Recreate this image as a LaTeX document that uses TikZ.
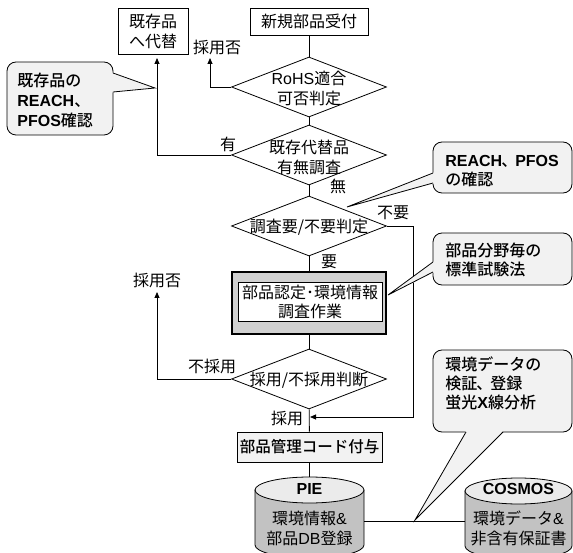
\documentclass[tikz,border=0pt]{standalone}
\usepackage{fontspec}
\setmainfont{Noto Sans CJK JP}[BoldFont={Noto Sans CJK JP Medium}]
\newfontfamily\lat{Liberation Sans}
\usetikzlibrary{shapes.geometric,arrows.meta}
\definecolor{calfill}{gray}{0.95}
\definecolor{cylbody}{gray}{0.76}
\definecolor{cyltop}{gray}{0.92}
\definecolor{boxgray}{gray}{0.82}
\definecolor{codefill}{gray}{0.95}
\tikzset{
  box/.style={draw, inner sep=0pt, align=center},
  dia/.style={draw, diamond, inner sep=0pt, minimum width=155pt, minimum height=60pt},
  lbl/.style={inner sep=0pt, align=center},
  callbox/.style={draw, rounded corners=9pt, fill=calfill, inner sep=0pt},
  calltext/.style={inner sep=0pt, align=left, anchor=west, font=\bfseries\fontsize{16}{19}\selectfont},
  cyl/.style={draw, fill=cylbody},
  cyltopstyle/.style={draw, fill=cyltop},
}
\begin{document}
\begin{tikzpicture}[x=1pt, y=-1pt, line width=0.8pt, font=\fontsize{16}{20}\selectfont,
  >={Triangle[length=6pt,width=5pt]}]
\useasboundingbox (0,0) rectangle (573,553);
\clip (0,0) rectangle (573,553);

% main boxes
\node[box, minimum width=70pt, minimum height=46pt] (alt) at (153,31) {既存品\\へ代替};
\node[box, minimum width=118pt, minimum height=27pt] (new) at (309,21.5) {新規部品受付};

\node[dia] (d1) at (309,87) {};
\node[lbl] (d1t) at (309,88) {{\lat RoHS}適合\\可否判定};
\node[dia] (d2) at (309,155) {};
\node[lbl] (d2t) at (309,157) {既存代替品\\有無調査};
\node[dia] (d3) at (309,226) {};
\node[lbl] (d3t) at (309,227) {調査要/不要判定};

% work box
\node[draw, line width=2.5pt, fill=boxgray, minimum width=154pt, minimum height=62pt, inner sep=0pt] (work) at (309,303) {};
\node[draw, line width=0.6pt, fill=white, minimum width=144pt, minimum height=39pt, inner sep=0pt, align=center, font=\fontsize{16}{19}\selectfont] (workt) at (310,301.5) {部品認定･環境情報\\調査作業};

\node[dia] (d4) at (309,379) {};
\node[lbl] (d4t) at (309,380) {採用/不採用判断};

\node[box, fill=codefill, minimum width=145pt, minimum height=30pt, font=\bfseries\fontsize{15.5}{19}\selectfont] (code) at (309.5,447) {部品管理コード付与};

% cylinders
\coordinate (pietop) at (309.5,477);
\coordinate (pieR) at (364,521);
\path[cyl] (255,490) -- (255,545) arc[start angle=180, end angle=360, x radius=54.5pt, y radius=13pt] -- (364,490) -- cycle;
\path[cyltopstyle] (309.5,490) ellipse[x radius=54.5pt, y radius=13pt];
\node[lbl, font=\lat\bfseries\fontsize{16}{20}\selectfont] (pie) at (309.5,489) {PIE};
\node[lbl] (piet) at (309.5,528) {環境情報{\lat\&}\\部品{\lat DB}登録};

\coordinate (cosL) at (465,521);
\path[cyl] (465,491) -- (465,546) arc[start angle=180, end angle=360, x radius=53.5pt, y radius=13pt] -- (572,491) -- cycle;
\path[cyltopstyle] (518.5,491) ellipse[x radius=53.5pt, y radius=13pt];
\node[lbl, font=\lat\bfseries\fontsize{16}{20}\selectfont] (cos) at (518.5,489) {COSMOS};
\node[lbl] (cost) at (518.5,528) {環境データ{\lat\&}\\非含有保証書};

% labels
\node[lbl] (l1) at (217,47) {採用否};
\node[lbl] (l2) at (228,144) {有};
\node[lbl] (l3) at (338,186) {無};
\node[lbl] (l4) at (393,213) {不要};
\node[lbl] (l5) at (329,262) {要};
\node[lbl] (l6) at (157,280) {採用否};
\node[lbl] (l7) at (212,366) {不採用};
\node[lbl] (l8) at (287,418) {採用};

% connectors
\coordinate (r1) at (210,58);
\coordinate (a1) at (157,58);
\coordinate (n1) at (413,226);
\coordinate (in) at (310,417);
\coordinate (r2) at (157,292);
\draw (new) -- (d1);
\draw[->] (d1.west) -| (r1);
\draw (d1) -- (d2);
\draw[->] (d2.west) -| (a1);
\draw (d2) -- (d3);
\draw (d3) -- (work);
\draw[->] (d3.east) -- (n1) |- (in);
\draw (work) -- (d4);
\draw[->] (d4.west) -| (r2);
\draw (d4) -- (code);
\draw (code) -- (pietop);
\draw (pieR) -- (cosL);

% callout 1
\node[callbox, minimum width=106pt, minimum height=73pt] (c1) at (60,98.5) {};
\coordinate (c1tip) at (155,88);
\fill[calfill] (112,72.5) -- (c1tip) -- (112,92.5) -- cycle;
\draw (113,73) -- (c1tip) -- (113,92);
\node[calltext, font=\bfseries\fontsize{16}{20}\selectfont] (c1t) at (17,100) {既存品の\\{\lat REACH}、\\{\lat PFOS}確認};

% callout 2
\node[callbox, minimum width=139pt, minimum height=51pt] (c2) at (502.5,167.5) {};
\coordinate (c2tip) at (347,207);
\fill[calfill] (434,172.5) -- (c2tip) -- (434,183.5) -- cycle;
\draw (433,173) -- (c2tip) -- (433,183);
\node[calltext] (c2t) at (445,171) {{\lat REACH}\hspace{-1pt}、\hspace{-2pt}{\lat PFOS}\\の確認};

% callout 3
\node[callbox, minimum width=139pt, minimum height=52pt] (c3) at (502.5,259) {};
\coordinate (c3tip) at (388,295);
\fill[calfill] (434,261.5) -- (c3tip) -- (434,272.5) -- cycle;
\draw (433,262) -- (c3tip) -- (433,272);
\node[calltext] (c3t) at (445,260) {部品分野毎の\\標準試験法};

% callout 4
\node[callbox, minimum width=139pt, minimum height=82pt] (c4) at (502.5,391) {};
\coordinate (c4tip) at (415,520);
\fill[calfill] (466,431) -- (c4tip) -- (503,431) -- cycle;
\draw (466,432) -- (c4tip) -- (503,432);
\node[calltext] (c4t) at (445,383) {環境データの\\検証\hspace{-1pt}、\hspace{-2pt}登録\\蛍光{\lat X}線分析};
\end{tikzpicture}
\end{document}
